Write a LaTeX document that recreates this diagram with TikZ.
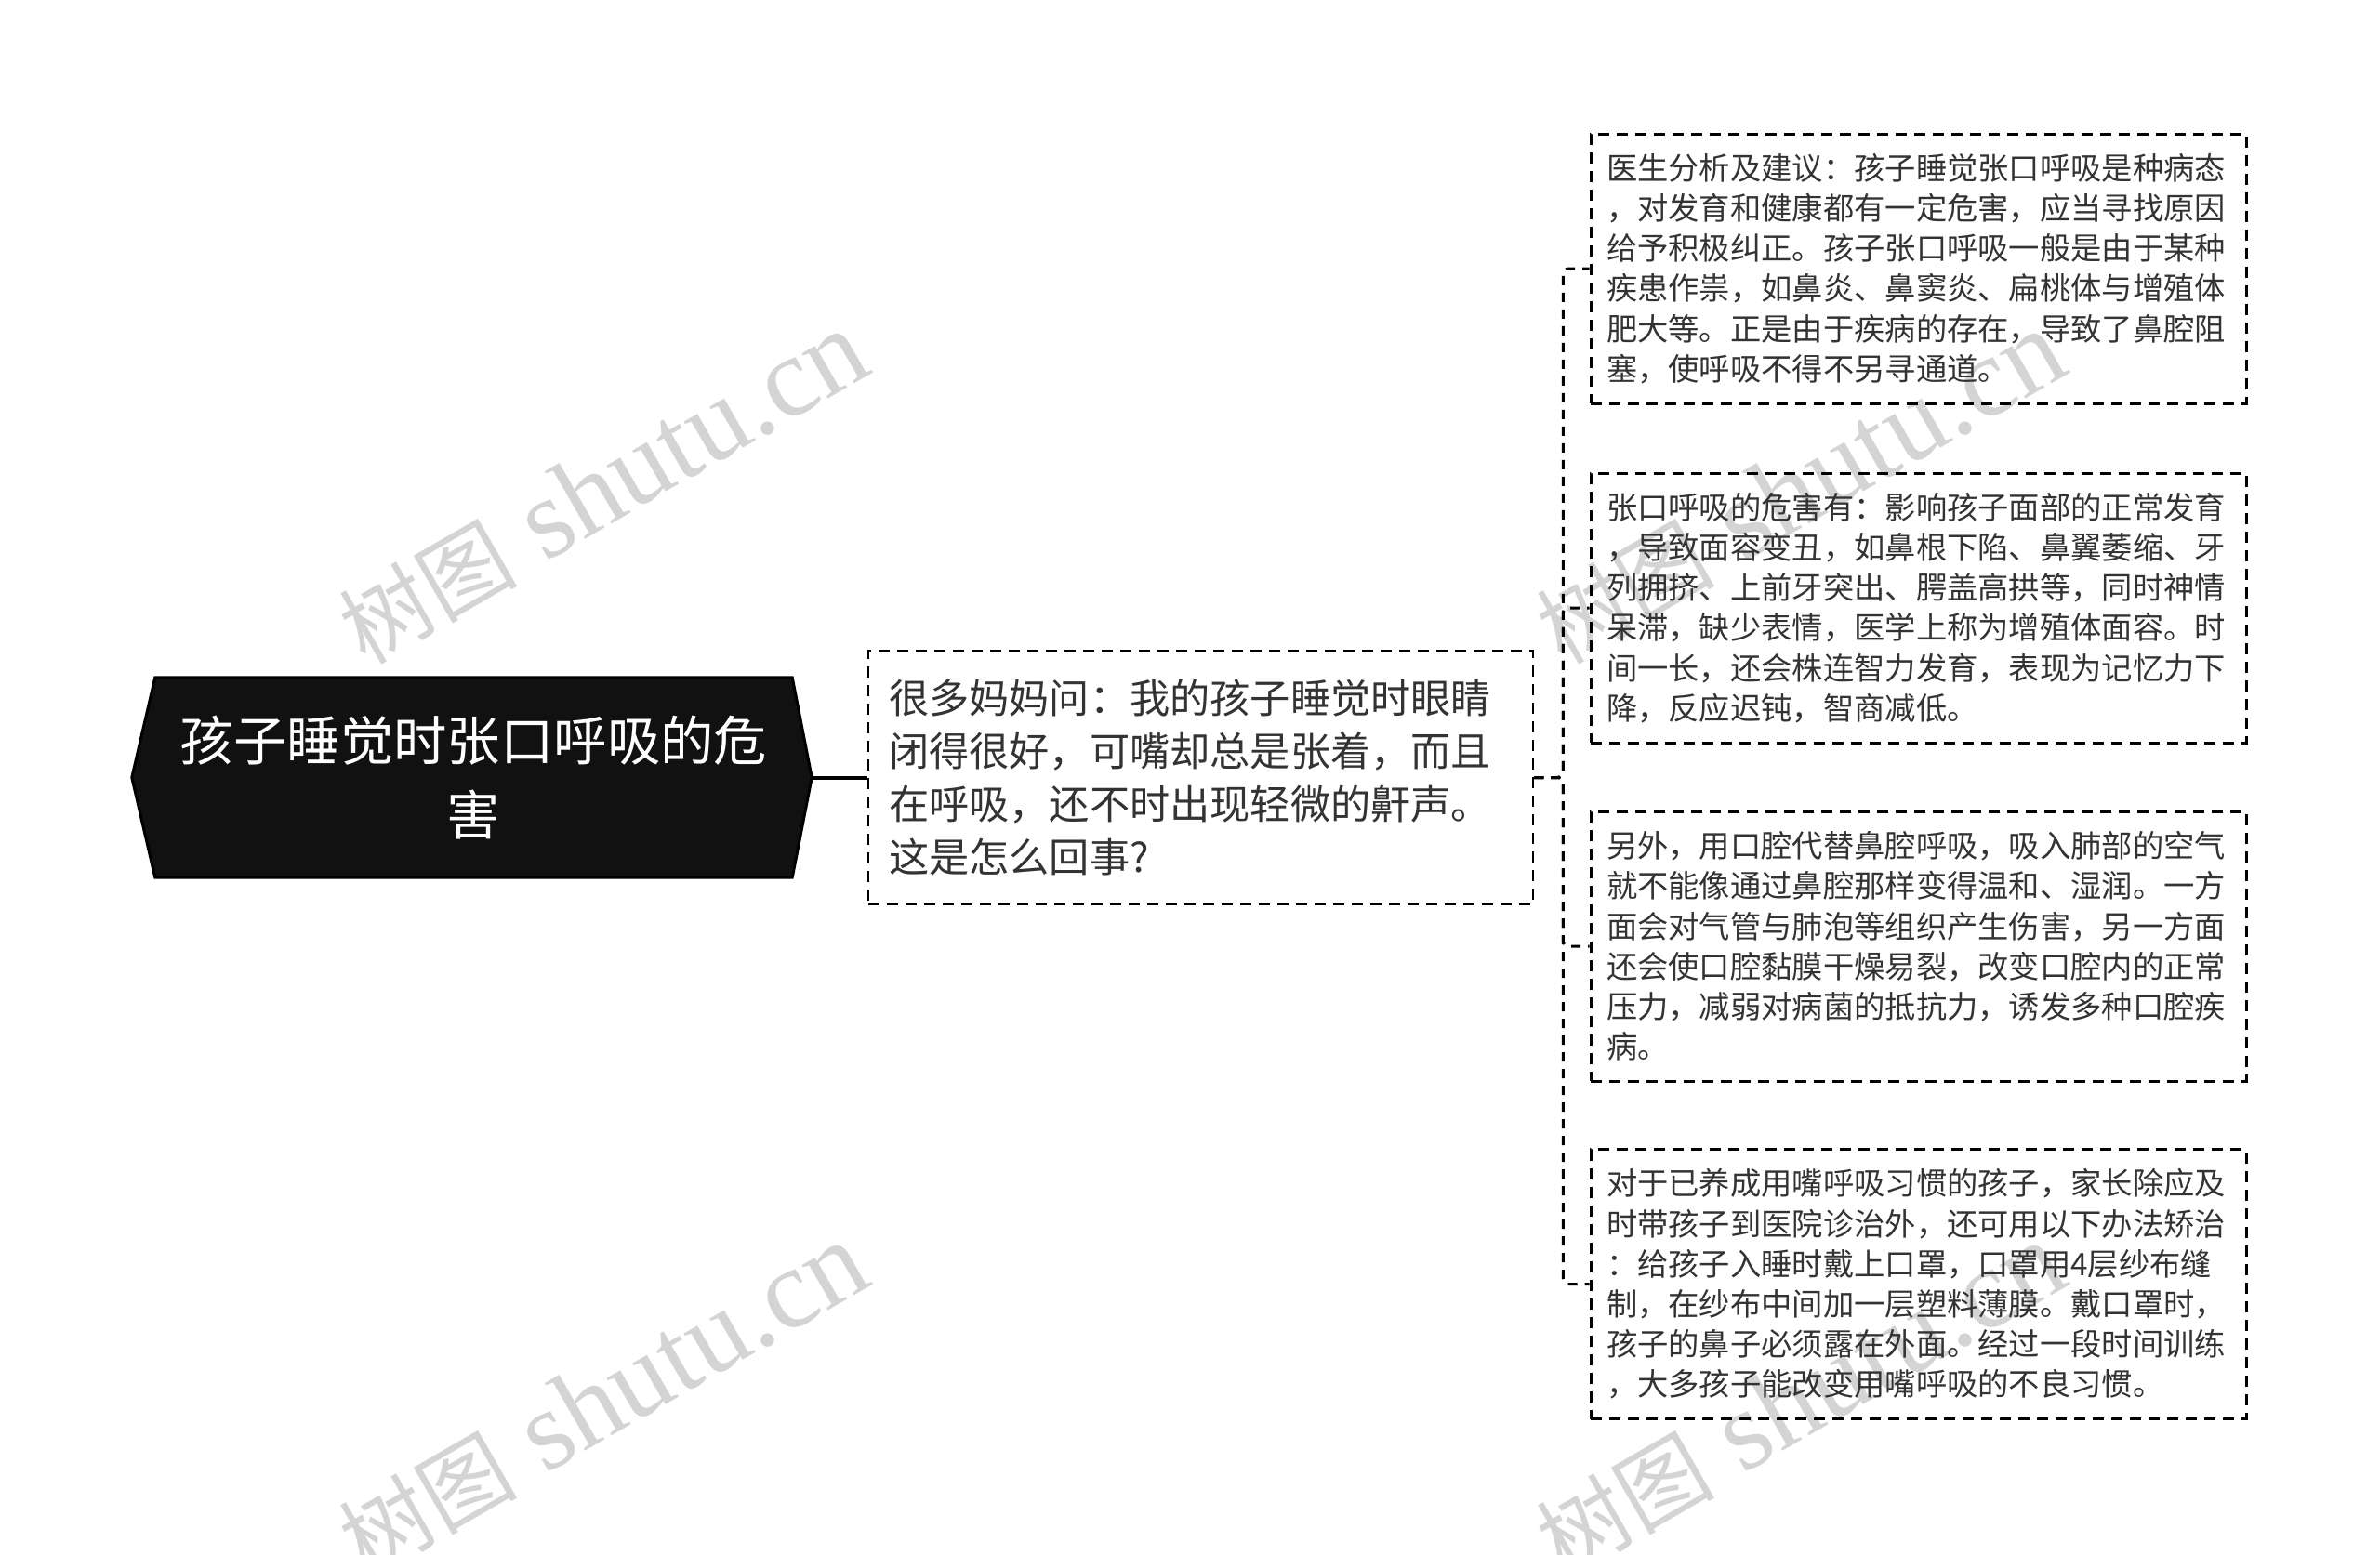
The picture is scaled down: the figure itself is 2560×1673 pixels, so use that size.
\documentclass[tikz,border=0pt]{standalone}
\usepackage{fontspec}
\setmainfont{Noto Sans CJK SC}
\newfontfamily\wmfont{Liberation Serif}
\newfontfamily\cjkfont{Noto Sans CJK SC}
\pgfdeclarelayer{bg}
\pgfsetlayers{bg,main}
\definecolor{txt}{HTML}{333333}
\definecolor{wmcol}{HTML}{D4D4D4}
\definecolor{rootfill}{HTML}{111111}
\begin{document}
\begin{tikzpicture}[x=1pt,y=-1pt,
  rootnode/.style={minimum width=685pt, minimum height=215pt, inner sep=0pt, text=white, align=center, font=\fontsize{57.4}{80}\selectfont},
  midnode/.style={draw=black, line width=2.5pt, dash pattern=on 12pt off 8pt, text width=671pt, inner xsep=22pt, inner ysep=0pt, minimum height=273pt, align=left, text=txt, font=\fontsize{43.2}{57}\selectfont},
  leafnode/.style={draw=black, line width=3pt, dash pattern=on 12pt off 8pt, text width=671pt, inner xsep=17pt, inner ysep=0pt, minimum height=290pt, align=left, text=txt, font=\fontsize{33.3}{43.2}\selectfont},
  link/.style={draw=black, line width=3pt, dash pattern=on 10pt off 8pt, rounded corners=6pt},
  rootlink/.style={draw=black, line width=4pt},
  wmark/.style={text=wmcol, rotate=30, inner sep=0pt, font=\wmfont\fontsize{122}{122}\selectfont}
]
\useasboundingbox (0,0) rectangle (2560,1673);

% watermarks
\begin{pgfonlayer}{bg}
\node[wmark] (wm1) at (648,525) {{\cjkfont\fontsize{96}{96}\selectfont 树图} shutu.cn};
\node[wmark] (wm2) at (648,1506) {{\cjkfont\fontsize{96}{96}\selectfont 树图} shutu.cn};
\node[wmark] (wm3) at (1936,525) {{\cjkfont\fontsize{96}{96}\selectfont 树图} shutu.cn};
\node[wmark] (wm4) at (1936,1506) {{\cjkfont\fontsize{96}{96}\selectfont 树图} shutu.cn};
\end{pgfonlayer}

% root
\node[rootnode] (root) at (509.5,836.5) {孩子睡觉时张口呼吸的危\\害};
\begin{pgfonlayer}{bg}
\filldraw[fill=rootfill, draw=black, line width=3pt, line join=miter]
  (root.north west) -- (root.north east) -- ([xshift=21pt]root.east)
  -- (root.south east) -- (root.south west) -- ([xshift=-25pt]root.west) -- cycle;
\end{pgfonlayer}

% middle
\node[midnode] (mid) at (1291.5,836.5) {很多妈妈问：我的孩子睡觉时眼睛\\闭得很好，可嘴却总是张着，而且\\在呼吸，还不时出现轻微的鼾声。\\这是怎么回事?};

% leaves
\node[leafnode] (l1) at (2063.5,289) {医生分析及建议：孩子睡觉张口呼吸是种病态\\，对发育和健康都有一定危害，应当寻找原因\\给予积极纠正。孩子张口呼吸一般是由于某种\\疾患作祟，如鼻炎、鼻窦炎、扁桃体与增殖体\\肥大等。正是由于疾病的存在，导致了鼻腔阻\\塞，使呼吸不得不另寻通道。};
\node[leafnode] (l2) at (2063.5,654) {张口呼吸的危害有：影响孩子面部的正常发育\\，导致面容变丑，如鼻根下陷、鼻翼萎缩、牙\\列拥挤、上前牙突出、腭盖高拱等，同时神情\\呆滞，缺少表情，医学上称为增殖体面容。时\\间一长，还会株连智力发育，表现为记忆力下\\降，反应迟钝，智商减低。};
\node[leafnode] (l3) at (2063.5,1018) {另外，用口腔代替鼻腔呼吸，吸入肺部的空气\\就不能像通过鼻腔那样变得温和、湿润。一方\\面会对气管与肺泡等组织产生伤害，另一方面\\还会使口腔黏膜干燥易裂，改变口腔内的正常\\压力，减弱对病菌的抵抗力，诱发多种口腔疾\\病。};
\node[leafnode] (l4) at (2063.5,1381.5) {对于已养成用嘴呼吸习惯的孩子，家长除应及\\时带孩子到医院诊治外，还可用以下办法矫治\\：给孩子入睡时戴上口罩，口罩用4层纱布缝\\制，在纱布中间加一层塑料薄膜。戴口罩时，\\孩子的鼻子必须露在外面。经过一段时间训练\\，大多孩子能改变用嘴呼吸的不良习惯。};

% connectors
\draw[rootlink] ([xshift=21pt]root.east) -- (mid.west);
\draw[link] (mid.east) -- ++(31,0) |- (l1.west);
\draw[link] (mid.east) -- ++(31,0) |- (l2.west);
\draw[link] (mid.east) -- ++(31,0) |- (l3.west);
\draw[link] (mid.east) -- ++(31,0) |- (l4.west);
\end{tikzpicture}
\end{document}
